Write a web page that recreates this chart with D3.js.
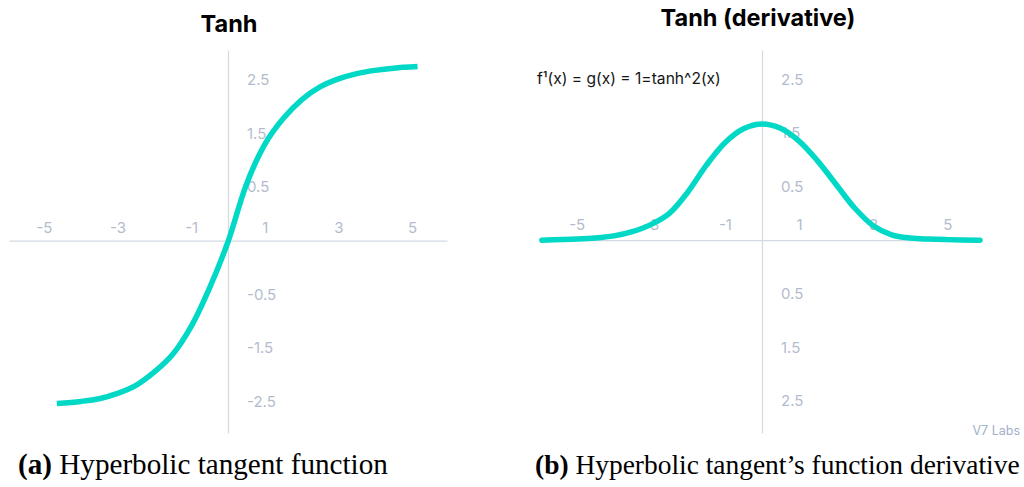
<!DOCTYPE html>
<html>
<head>
<meta charset="utf-8">
<script src="https://cdn.jsdelivr.net/npm/d3@7"></script>
<style>
  body { margin: 0; background: #fff; }
  svg { display: block; }
  .tick text { font-family: Inter, sans-serif; font-size: 15px; fill: #b3bccd; }
  .domain { stroke: #d3d9e3; stroke-width: 1.2; }
</style>
</head>
<body>
<div class="chart"></div>
<script>
// Tanh and its derivative, two panels side by side
var svgWidth = 1024;
var svgHeight = 487;

// tick values, and the labels as they are printed on the original
var xTicks = [-5, -3, -1, 1, 3, 5];
var yTicks = [3, 2, 1, -1, -2, -3];
var tanhYLabels = ["2.5", "1.5", "0.5", "-0.5", "-1.5", "-2.5"];
var derivYLabels = ["2.5", "1.5", "0.5", "0.5", "1.5", "2.5"];

// curve points
var tanhX = [-4.65, -4, -3.5, -3, -2.5, -2, -1.5, -1, -0.5, 0, 0.5, 1, 1.5, 2, 2.5, 3, 3.5, 4, 4.5, 5.15];
var tanhY = [-3.04, -3.0, -2.95, -2.85, -2.7, -2.45, -2.12, -1.6, -0.88, -0.02, 1.05, 1.8, 2.28, 2.63, 2.87, 3.02, 3.12, 3.18, 3.22, 3.25];

var derivX = [-5.94, -5, -4.5, -4, -3.5, -3, -2.5, -2, -1.5, -1, -0.5, 0, 0.5, 1, 1.5, 2, 2.5, 3, 3.5, 4, 4.5, 5, 5.88];
var derivY = [0, 0.02, 0.04, 0.08, 0.16, 0.29, 0.5, 0.9, 1.4, 1.82, 2.08, 2.17, 2.09, 1.85, 1.48, 1.04, 0.6, 0.27, 0.1, 0.04, 0.02, 0.01, 0];

var svg = d3.select(".chart")
  .append("svg")
  .attr("width", svgWidth)
  .attr("height", svgHeight);

// draws one panel: axes crossing at the origin, labels, curve
function drawPanel(p) {
  var xScale = d3.scaleLinear()
    .domain([-5.95, 5.95])
    .range(p.xRange);

  var yScale = d3.scaleLinear()
    .domain(p.yDomain)
    .range([433, 50]);

  var topAxis = d3.axisTop(xScale)
    .tickValues(xTicks)
    .tickSize(0)
    .tickSizeOuter(0)
    .tickPadding(p.xPad)
    .tickFormat(d => String(d));

  var rightAxis = d3.axisRight(yScale)
    .tickValues(yTicks)
    .tickSize(0)
    .tickSizeOuter(0)
    .tickPadding(19)
    .tickFormat((d, i) => p.yLabels[i]);

  var gx = svg.append("g")
    .attr("transform", `translate(0, ${yScale(0)})`)
    .call(topAxis);

  var gy = svg.append("g")
    .attr("transform", `translate(${xScale(0)}, 0)`)
    .call(rightAxis);

  gx.attr("font-family", null).attr("font-size", null);
  gy.attr("font-family", null).attr("font-size", null);

  var pts = p.xs.map((x, i) => [x, p.ys[i]]);

  var line = d3.line()
    .x(d => xScale(d[0]))
    .y(d => yScale(d[1]))
    .curve(d3.curveCatmullRom.alpha(0.5));

  svg.append("path")
    .datum(pts)
    .attr("d", line)
    .attr("fill", "none")
    .attr("stroke", "#01d8c6")
    .attr("stroke-width", 5.5)
    .attr("stroke-linecap", p.cap);

  svg.append("text")
    .attr("x", p.titleX)
    .attr("y", p.titleY)
    .attr("text-anchor", "middle")
    .attr("font-family", "Inter, sans-serif")
    .attr("font-weight", 700)
    .attr("font-size", "23.5px")
    .attr("fill", "#000")
    .text(p.title);
}

drawPanel({
  xRange: [9, 447],
  yDomain: [-3.59, 3.56],
  xPad: 8,
  yLabels: tanhYLabels,
  xs: tanhX,
  ys: tanhY,
  cap: "butt",
  title: "Tanh",
  titleX: 229,
  titleY: 32
});

drawPanel({
  xRange: [541.5, 982.5],
  yDomain: [-3.6, 3.55],
  xPad: 10,
  yLabels: derivYLabels,
  xs: derivX,
  ys: derivY,
  cap: "round",
  title: "Tanh (derivative)",
  titleX: 758,
  titleY: 26
});

// formula note on the right panel
svg.append("text")
  .attr("x", 537)
  .attr("y", 84)
  .attr("font-family", "Inter, sans-serif")
  .attr("font-size", "15.6px")
  .attr("fill", "#151515")
  .text("f¹(x) = g(x) = 1=tanh^2(x)");

svg.append("text")
  .attr("x", 1020)
  .attr("y", 435)
  .attr("text-anchor", "end")
  .attr("font-family", "Inter, sans-serif")
  .attr("font-size", "12.5px")
  .attr("fill", "#9fb0c8")
  .text("V7 Labs");

// sub-figure captions, fitted to their width on the page
function caption(tag, label, x0, x1) {
  var t = svg.append("text")
    .attr("x", x0)
    .attr("y", 474)
    .attr("font-family", "'Liberation Serif', serif")
    .attr("font-size", "24px")
    .attr("fill", "#000");
  t.append("tspan").attr("font-weight", 700).text(tag);
  t.append("tspan").text(" " + label);
  var w = t.node().getComputedTextLength();
  t.attr("font-size", (24 * (x1 - x0) / w) + "px");
}

caption("(a)", "Hyperbolic tangent function", 18, 388);
caption("(b)", "Hyperbolic tangent’s function derivative", 535, 1020);
</script>
</body>
</html>
